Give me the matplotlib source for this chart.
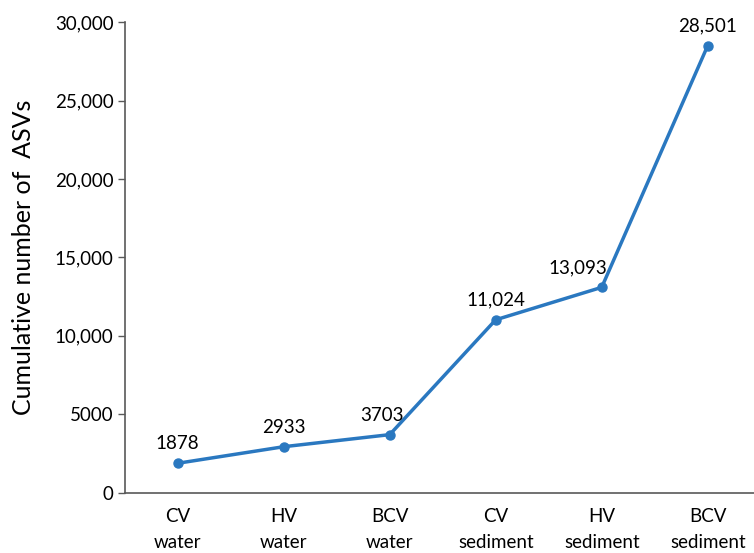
import matplotlib
matplotlib.use("Agg")
import matplotlib.pyplot as plt
from matplotlib.ticker import FuncFormatter

plt.rcParams['font.family'] = ['Lato', 'DejaVu Sans']

# data
categories = ['CV\nwater', 'HV\nwater', 'BCV\nwater',
              'CV\nsediment', 'HV\nsediment', 'BCV\nsediment']
asvs = [1878, 2933, 3703, 11024, 13093, 28501]
point_labels = ['1878', '2933', '3703', '11,024', '13,093', '28,501']
label_dx = [0, 0, -8, 0, -24, 0]  # horizontal nudge of the value labels (px)

blue = '#2a78c0'
grey = '#595959'

fig = plt.figure(figsize=(7.54, 5.53), dpi=100)
ax = fig.add_axes([0.1654, 0.109, 0.8435, 0.851])

x = list(range(len(categories)))
ax.plot(x, asvs, color=blue, lw=2.5, marker='o', ms=6.5, solid_capstyle='round')

for xi, yi, txt, dx in zip(x, asvs, point_labels, label_dx):
    ax.annotate(txt, (xi, yi), xytext=(dx * 0.72, 8), textcoords='offset points',
                ha='center', va='bottom', fontsize=13.5, color='black')

ax.set_xlim(-0.5, 5.5)
ax.set_ylim(0, 30000)
ax.set_yticks(range(0, 30001, 5000))
ax.yaxis.set_major_formatter(FuncFormatter(
    lambda v, p: '0' if v == 0 else ('5000' if v == 5000 else f'{int(v):,}')))
ax.set_xticks(x)
ax.set_xticklabels(categories, fontsize=13.5, linespacing=1.65)
ax.tick_params(axis='y', labelsize=13.5, length=5, width=1, color=grey, pad=3)
ax.tick_params(axis='x', length=0, pad=11)

ax.set_ylabel('Cumulative number of  ASVs', fontsize=18, labelpad=14)

for s in ['top', 'right']:
    ax.spines[s].set_visible(False)
for s in ['left', 'bottom']:
    ax.spines[s].set_color(grey)
    ax.spines[s].set_linewidth(1.2)

fig.savefig('out.png', dpi=100)
